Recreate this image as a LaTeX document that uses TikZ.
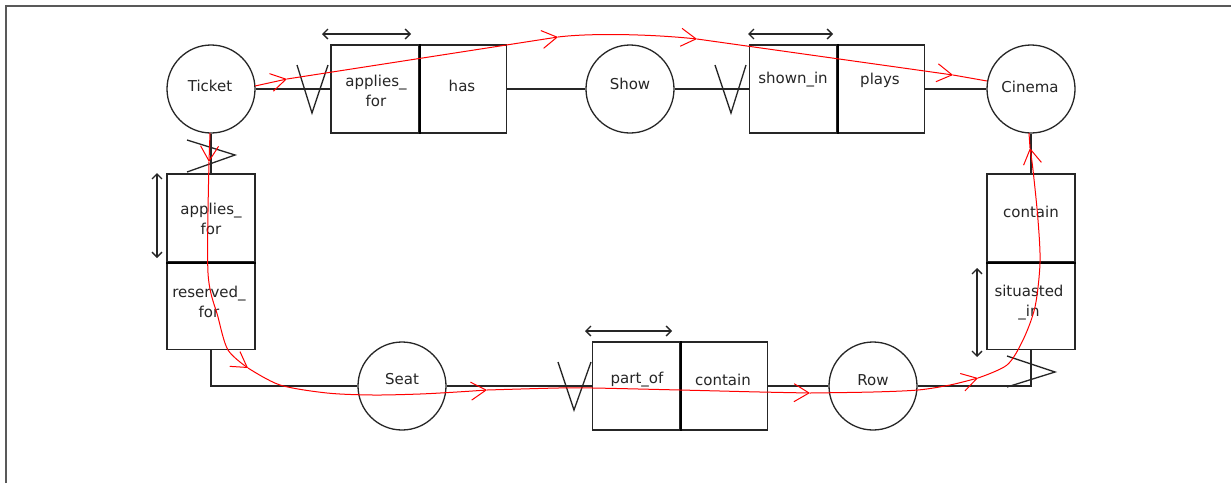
\documentclass[tikz,border=0pt]{standalone}
\usepackage{fontspec}
\setmainfont{DejaVu Sans}
\usetikzlibrary{arrows.meta,calc}
\begin{document}
\begin{tikzpicture}[x=1pt,y=-1pt,
  ent/.style={circle, draw=black!85, line width=1.3pt, minimum size=88pt, inner sep=0pt},
  cell/.style={rectangle, draw=black!85, line width=1.3pt, minimum width=88pt, minimum height=88pt, inner sep=0pt},
  lbl/.style={font=\fontsize{15}{20}\selectfont, align=center, inner sep=0pt, text=black!85},
  conn/.style={draw=black!85, line width=1.3pt},
  divider/.style={draw=black, line width=2pt},
  crow/.style={draw=black!85, line width=1.3pt},
  dbl/.style={draw=black!85, line width=1.3pt, {Straight Barb[length=5pt,width=10pt]}-{Straight Barb[length=5pt,width=10pt]}},
  rarr/.style={draw=red, line width=1pt, -{Straight Barb[length=15pt,width=18pt]}},
  rline/.style={draw=red, line width=1pt},
  frame/.style={draw=black!65, line width=1.6pt}]
\useasboundingbox (0,0) rectangle (1231,483);
\fill[white] (0,0) rectangle (1231,483);
\draw[frame] (6,483) -- (6,6) -- (1231,6);

% entities
\node[ent] (ticket) at (211,89) {};
\node[ent] (show) at (630,89) {};
\node[ent] (cinema) at (1031,89) {};
\node[ent] (seat) at (402,386) {};
\node[ent] (row) at (873,386) {};
\node[lbl] (ticketT) at (210,86) {Ticket};
\node[lbl] (showT) at (630,84) {Show};
\node[lbl] (cinemaT) at (1030,87) {Cinema};
\node[lbl] (seatT) at (402,379) {Seat};
\node[lbl] (rowT) at (873,380) {Row};

% relationship cells
\node[cell] (tA1) at (375,89) {};
\node[cell] (tA2) at (462.5,89) {};
\node[cell] (tB1) at (793.5,89) {};
\node[cell] (tB2) at (880.5,89) {};
\node[cell] (lC1) at (211,218) {};
\node[cell] (lC2) at (211,305.5) {};
\node[cell] (rD1) at (1031,218) {};
\node[cell] (rD2) at (1031,305.5) {};
\node[cell] (bE1) at (636.5,386) {};
\node[cell] (bE2) at (723.5,386) {};
\draw[divider] (tA1.north east) -- (tA1.south east);
\draw[divider] (tB1.north east) -- (tB1.south east);
\draw[divider] (lC1.south west) -- (lC1.south east);
\draw[divider] (rD1.south west) -- (rD1.south east);
\draw[divider] (bE1.north east) -- (bE1.south east);

\node[lbl] (tA1t) at (376,91) {applies\_\\for};
\node[lbl] (tA2t) at (462,86) {has};
\node[lbl] (tB1t) at (793,80) {shown\_in};
\node[lbl] (tB2t) at (880,80) {plays};
\node[lbl] (lC1t) at (211,219) {applies\_\\for};
\node[lbl] (lC2t) at (209,302) {reserved\_\\for};
\node[lbl] (rD1t) at (1031,212) {contain};
\node[lbl] (rD2t) at (1029,303) {situasted\\\_in};
\node[lbl] (bE1t) at (637,380) {part\_of};
\node[lbl] (bE2t) at (723,380) {contain};

% connectors
\draw[conn] (ticket.east) -- (tA1.west);
\draw[conn] (tA2.east) -- (show.west);
\draw[conn] (show.east) -- (tB1.west);
\draw[conn] (tB2.east) -- (cinema.west);
\draw[conn] (ticket.south) -- (lC1.north);
\draw[conn] (lC2.south) |- (seat.west);
\draw[conn] (seat.east) -- (bE1.west);
\draw[conn] (bE2.east) -- (row.west);
\draw[conn] (row.east) -| (rD2.south);
\draw[conn] (rD1.north) -- (cinema.south);

% crow's feet marks
\draw[crow] (297,65) -- (312,113) -- (328,65);
\draw[crow] (715,65) -- (731,113) -- (746,65);
\draw[crow] (558,362) -- (574,410) -- (591,362);
\draw[crow] (187,140) -- (235,155) -- (187,172);
\draw[crow] (1007,356) -- (1055,372) -- (1007,387);

% double arrows
\draw[dbl] (322,34) -- (411,34);
\draw[dbl] (748,34) -- (833,34);
\draw[dbl] (157,173) -- (157,258);
\draw[dbl] (977,268) -- (977,357);
\draw[dbl] (585,331) -- (672,331);

% red path 1
\coordinate (r1s) at (255,86);
\coordinate (r1e) at (987,81);
\draw[rarr] (r1s) -- (287,79);
\draw[rarr] (287,79) -- (558,37);
\draw[rarr] (558,37) .. controls (590,33) and (650,34) .. (697,39);
\draw[rarr] (697,39) -- (953,75);
\draw[rline] (953,75) -- (r1e);

% red path 2
\coordinate (r2s) at (210,133);
\coordinate (r2e) at (1029,133);
\draw[rarr] (r2s) -- (209,162);
\draw[rarr] plot[smooth] coordinates {(209,162) (208,273) (218,317) (228,350) (248,368)};
\draw[rarr] plot[smooth] coordinates {(248,368) (280,385) (327,393) (373,395) (420,394) (457,392) (487,390)};
\draw[rarr] plot[smooth] coordinates {(487,390) (558,388) (593,388) (680,390) (760,392) (810,393)};
\draw[rarr] plot[smooth] coordinates {(810,393) (873,392) (918,390) (950,385) (978,378)};
\draw[rarr] plot[smooth] coordinates {(978,378) (1007,365) (1023,340) (1035,307) (1040,263) (1038,220) (1033,170) (1030,148)};
\draw[rline] (1030,148) -- (r2e);
\end{tikzpicture}
\end{document}
